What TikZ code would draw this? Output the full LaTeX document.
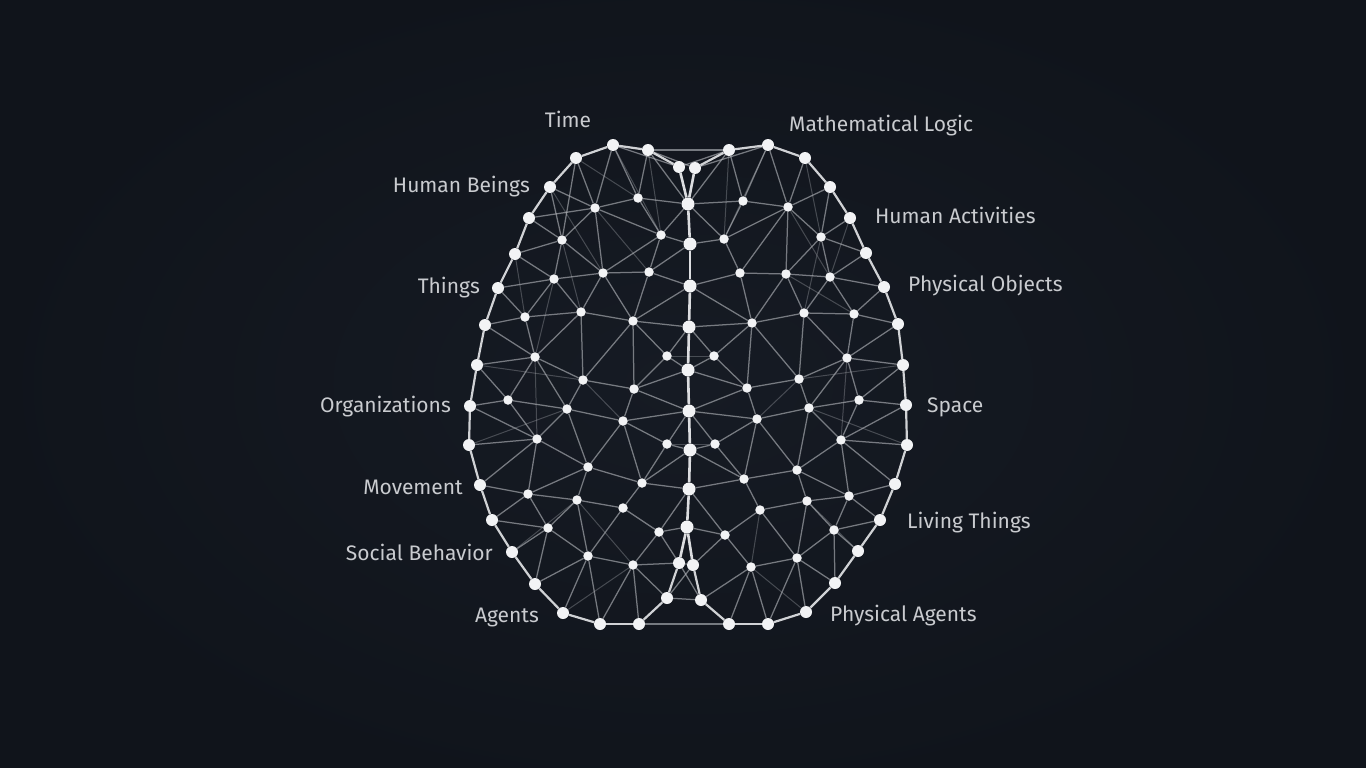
\documentclass[tikz,border=0pt]{standalone}
\usepackage{fontspec}
\setmainfont{Fira Sans}
\usetikzlibrary{backgrounds}
\pgfdeclarelayer{bgl}
\pgfdeclarelayer{edgel}
\pgfsetlayers{bgl,edgel,main}
\definecolor{bgcol}{HTML}{10141B}
\definecolor{bgmid}{HTML}{161B24}
\definecolor{nodecol}{HTML}{F2F3F5}
\definecolor{edgecol}{HTML}{B4B7BC}
\definecolor{labelcol}{HTML}{C9CBCF}
\tikzset{
  bnode/.style={circle,fill=nodecol,inner sep=0pt,minimum size=12pt},
  cnode/.style={circle,fill=nodecol,inner sep=0pt,minimum size=13pt},
  inode/.style={circle,fill=nodecol,inner sep=0pt,minimum size=9.5pt},
  edge/.style={draw=edgecol,line width=1.25pt,opacity=0.62},
  faint/.style={draw=edgecol,line width=1pt,opacity=0.32},
  rim/.style={draw=nodecol,line width=2.2pt,opacity=0.85},
  spine/.style={draw=nodecol,line width=2.6pt,opacity=0.9},
  lab/.style={text=labelcol,font=\fontsize{21}{25}\selectfont,inner sep=0pt}
}
\begin{document}
\begin{tikzpicture}[x=1pt,y=-1pt]
\useasboundingbox (0,0) rectangle (1366,768);
\begin{pgfonlayer}{bgl}
\fill[bgcol] (0,0) rectangle (1366,768);
\shade[inner color=bgmid,outer color=bgcol] (683,384) ellipse (700 and 420);
\end{pgfonlayer}
% top / bottom centre
\node[bnode] (T1) at (679,167) {};
\node[bnode] (T2) at (695,168) {};
\node[bnode] (B1) at (667,598) {};
\node[bnode] (B2) at (679,563) {};
\node[bnode] (B3) at (693,565) {};
\node[bnode] (B4) at (701,600) {};
% left rim
\node[bnode] (L1) at (648,150) {};
\node[bnode] (L2) at (613,145) {};
\node[bnode] (L3) at (576,158) {};
\node[bnode] (L4) at (550,187) {};
\node[bnode] (L5) at (529,218) {};
\node[bnode] (L6) at (515,254) {};
\node[bnode] (L7) at (498,288) {};
\node[bnode] (L8) at (485,325) {};
\node[bnode] (L9) at (477,365) {};
\node[bnode] (L10) at (470,406) {};
\node[bnode] (L11) at (469,445) {};
\node[bnode] (L12) at (480,485) {};
\node[bnode] (L13) at (492,520) {};
\node[bnode] (L14) at (512,552) {};
\node[bnode] (L15) at (535,584) {};
\node[bnode] (L16) at (563,613) {};
\node[bnode] (L17) at (600,624) {};
\node[bnode] (L18) at (639,624) {};
% right rim
\node[bnode] (R1) at (729,150) {};
\node[bnode] (R2) at (768,145) {};
\node[bnode] (R3) at (805,158) {};
\node[bnode] (R4) at (830,187) {};
\node[bnode] (R5) at (850,218) {};
\node[bnode] (R6) at (866,253) {};
\node[bnode] (R7) at (884,287) {};
\node[bnode] (R8) at (898,324) {};
\node[bnode] (R9) at (903,365) {};
\node[bnode] (R10) at (906,405) {};
\node[bnode] (R11) at (907,445) {};
\node[bnode] (R12) at (895,484) {};
\node[bnode] (R13) at (880,520) {};
\node[bnode] (R14) at (858,551) {};
\node[bnode] (R15) at (835,583) {};
\node[bnode] (R16) at (806,612) {};
\node[bnode] (R17) at (768,624) {};
\node[bnode] (R18) at (729,624) {};
% spine
\node[cnode] (C1) at (688,204) {};
\node[cnode] (C2) at (690,244) {};
\node[cnode] (C3) at (690,286) {};
\node[cnode] (C4) at (689,327) {};
\node[cnode] (C5) at (688,370) {};
\node[cnode] (C6) at (689,411) {};
\node[cnode] (C7) at (690,450) {};
\node[cnode] (C8) at (689,489) {};
\node[cnode] (C9) at (687,527) {};
% left inner
\foreach \n/\x/\y in {A1/638/198,A2/595/208,A3/661/235,A4/562/240,A5/554/279,A6/603/273,A7/649/272,
  A8/525/317,A9/581/312,A10/633/321,A11/535/357,A12/667/356,A13/583/380,A14/634/389,
  A15/508/400,A16/567/409,A17/623/421,A18/537/439,A19/667/444,A20/588/467,A21/642/483,
  A22/528/494,A23/577/500,A24/623/508,A25/548/528,A26/659/532,A27/588/556,A28/633/565}
  \node[inode] (\n) at (\x,\y) {};
% right inner
\foreach \n/\x/\y in {D1/743/201,D2/788/207,D3/724/239,D4/821/237,D5/740/273,D6/786/274,D7/830/277,
  D8/752/323,D9/804/313,D10/854/314,D11/714/356,D12/847/358,D13/799/379,D14/747/388,
  D15/859/400,D16/809/408,D17/757/419,D18/841/440,D19/715/444,D20/797/470,D21/744/479,
  D22/849/496,D23/807/501,D24/760/510,D25/834/530,D26/725/535,D27/797/558,D28/751/567}
  \node[inode] (\n) at (\x,\y) {};
% labels
\node[lab,anchor=base] (tTime) at (568,128) {Time};
\node[lab,anchor=base west] (tML) at (789,131) {Mathematical Logic};
\node[lab,anchor=base east] (tHB) at (530,192) {Human Beings};
\node[lab,anchor=base west] (tHA) at (875,223) {Human Activities};
\node[lab,anchor=base east] (tTh) at (480,293) {Things};
\node[lab,anchor=base west] (tPO) at (908,291) {Physical Objects};
\node[lab,anchor=base east] (tOr) at (451,412) {Organizations};
\node[lab,anchor=base west] (tSp) at (927,412) {Space};
\node[lab,anchor=base east] (tMo) at (463,494) {Movement};
\node[lab,anchor=base west] (tLT) at (907,528) {Living Things};
\node[lab,anchor=base east] (tSB) at (493,560) {Social Behavior};
\node[lab,anchor=base east] (tAg) at (539,622) {Agents};
\node[lab,anchor=base west] (tPA) at (830,621) {Physical Agents};
\begin{pgfonlayer}{edgel}
% faint long-range lines
\foreach \a/\b in {L3/A1,L4/A6,L6/A8,L9/A13,L11/A16,L14/A23,L16/A28,L2/A3,A2/A7,A4/A9,
  R3/D4,R5/D7,R9/D13,R11/D16,R14/D23,R16/D28,R2/D3,D2/D7,D4/D9,A12/D11,A19/D19,
  A5/A11,D6/D10,A13/A17,D13/D17,A23/A28,D24/D28,L1/A3,R1/D3,A11/A18,D12/D18}
  \draw[faint] (\a) -- (\b);
% mesh
\foreach \a/\b in {L1/T2,T1/R1,L1/R1,L1/C1,R1/C1,L2/T1,R2/T2,
  L2/A1,L2/A2,L1/A1,L3/A2,L3/A4,L4/A2,L4/A4,L5/A4,L5/A2,L6/A4,L6/A5,L7/A5,
  A1/A2,A1/C1,A1/A3,A2/A3,A2/A4,A2/A6,A3/C1,A3/C2,A4/A5,A4/A6,A5/A6,A6/A7,A6/A3,A7/A3,A7/C2,A7/C3,
  R1/D1,R2/D1,R2/D2,R3/D2,R4/D2,R4/D4,R5/D4,R6/D4,R6/D7,R7/D7,
  D1/D2,D1/C1,D1/D3,D2/D3,D2/D4,D2/D5,D3/C1,D3/C2,D3/D5,D4/D6,D4/D7,D5/D6,D6/D7,D5/C3,D2/D6,
  L7/A8,L8/A8,L8/A11,L9/A11,L9/A15,L10/A15,L10/A18,L11/A18,L12/A18,
  A5/A8,A5/A9,A6/A9,A6/A10,A7/A10,A10/C3,A10/C4,
  A8/A9,A9/A10,A8/A11,A9/A11,A9/A13,A10/A13,A10/A14,A10/A12,A11/A13,A11/A15,A11/A16,
  A12/C4,A12/C5,A12/A14,A13/A14,A13/A16,A14/C5,A14/C6,A14/A17,A15/A16,A15/A18,A16/A17,
  A16/A18,A17/C6,A17/A19,A19/C6,A19/C7,
  R7/D10,R8/D10,R8/D12,R9/D12,R9/D15,R10/D15,R10/D18,R11/D18,R12/D18,
  D5/D8,D6/D8,D6/D9,D7/D9,D7/D10,D8/C3,D8/C4,
  D8/D9,D9/D10,D8/D11,D11/C4,D11/C5,D8/D14,D8/D13,D9/D13,D9/D12,D10/D12,D12/D13,D12/D15,
  D12/D16,D13/D14,D13/D16,D11/D14,D14/C5,D14/C6,D14/D17,D16/D17,D15/D16,D15/D18,D16/D18,
  D17/D19,D17/C6,D19/C6,D19/C7,
  L12/A22,L13/A22,L13/A25,L14/A25,L15/A25,L15/A27,L16/A27,L17/A27,L17/A28,L18/A28,
  A18/A20,A18/A22,A16/A20,A17/A20,A17/A21,A19/A21,A21/C7,A21/C8,
  A22/A20,A22/A23,A22/A25,A20/A23,A20/A21,A23/A24,A21/A24,A23/A25,A24/A26,A26/C8,A26/C9,
  A25/A27,A24/A27,A23/A27,A27/A28,A28/A26,A28/B2,A28/B1,A26/B2,
  R12/D22,R13/D22,R13/D25,R14/D25,R15/D25,R15/D27,R16/D27,R17/D27,R17/D28,R18/D28,
  D20/D16,D20/D17,D20/D18,D21/D17,D21/D19,D21/C7,D21/C8,D21/D20,D20/D22,D20/D23,D21/D24,
  D24/D23,D23/D22,D22/D18,D22/D25,D25/D23,D25/D27,D27/D23,D24/D27,D24/D26,D26/C9,D26/C8,
  D26/B3,D26/D28,D28/D27,D28/B4,
  B1/B3,B2/B4,B1/B4,L18/R18,B2/B3}
  \draw[edge] (\a) -- (\b);
% rim
\foreach \a/\b in {T1/L1,L1/L2,L2/L3,L3/L4,L4/L5,L5/L6,L6/L7,L7/L8,L8/L9,L9/L10,L10/L11,
  L11/L12,L12/L13,L13/L14,L14/L15,L15/L16,L16/L17,L17/L18,L18/B1,B1/B2,
  T2/R1,R1/R2,R2/R3,R3/R4,R4/R5,R5/R6,R6/R7,R7/R8,R8/R9,R9/R10,R10/R11,
  R11/R12,R12/R13,R13/R14,R14/R15,R15/R16,R16/R17,R17/R18,R18/B4,B4/B3}
  \draw[rim] (\a) -- (\b);
% spine
\foreach \a/\b in {T1/C1,T2/C1,C1/C2,C2/C3,C3/C4,C4/C5,C5/C6,C6/C7,C7/C8,C8/C9,C9/B2,C9/B3}
  \draw[spine] (\a) -- (\b);
\end{pgfonlayer}
\end{tikzpicture}
\end{document}
